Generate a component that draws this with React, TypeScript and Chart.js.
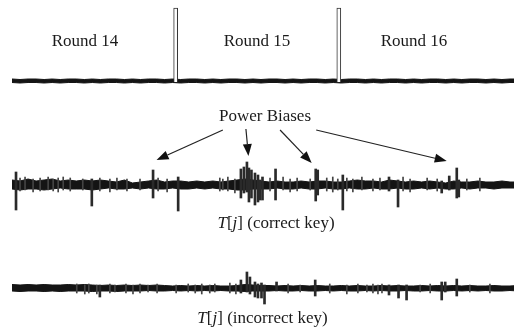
import React, { useEffect, useRef } from "react";
import { Chart, registerables } from "chart.js";

Chart.register(...registerables);

// ---- sample grid for the noise envelopes (sample index j, 0..1000) ----
const envJ = [
  0, 16, 32, 48, 64, 80, 96, 112, 128, 144, 160, 176, 192, 208, 224, 240,
  256, 272, 288, 304, 320, 336, 352, 368, 384, 400, 416, 432, 448, 464, 480, 496,
  512, 528, 544, 560, 576, 592, 608, 624, 640, 656, 672, 688, 704, 720, 736, 752,
  768, 784, 800, 816, 832, 848, 864, 880, 896, 912, 928, 944, 960, 976, 992, 1008,
];

// ---- top trace: power consumption with round markers ----
const topUpper = [
  0.2, 0.15, 0.2, 0.2, 0.15, 0.2, 0.15, 0.2,
  0.2, 0.15, 0.2, 0.15, 0.2, 0.2, 0.15, 0.2,
  0.15, 0.2, 0.2, 0.15, 0.2, 0.15, 0.2, 0.2,
  0.15, 0.2, 0.15, 0.2, 0.2, 0.15, 0.2, 0.15,
  0.2, 0.2, 0.15, 0.2, 0.15, 0.2, 0.2, 0.15,
  0.2, 0.15, 0.2, 0.2, 0.15, 0.2, 0.15, 0.2,
  0.2, 0.15, 0.2, 0.15, 0.2, 0.2, 0.15, 0.2,
  0.15, 0.2, 0.2, 0.15, 0.2, 0.15, 0.2, 0.2,
];
const topLower = [
  -0.15, -0.2, -0.15, -0.15, -0.2, -0.15, -0.2, -0.15,
  -0.15, -0.2, -0.15, -0.2, -0.15, -0.15, -0.2, -0.15,
  -0.2, -0.15, -0.15, -0.2, -0.15, -0.2, -0.15, -0.15,
  -0.2, -0.15, -0.2, -0.15, -0.15, -0.2, -0.15, -0.2,
  -0.15, -0.15, -0.2, -0.15, -0.2, -0.15, -0.15, -0.2,
  -0.15, -0.2, -0.15, -0.15, -0.2, -0.15, -0.2, -0.15,
  -0.15, -0.2, -0.15, -0.2, -0.15, -0.15, -0.2, -0.15,
  -0.2, -0.15, -0.15, -0.2, -0.15, -0.2, -0.15, -0.15,
];
const roundStartJ = [326, 651];
const roundMarkerHeight = [7.3, 7.3];

// ---- middle trace: T[j] (correct key) ----
const midUpper = [
  0.5, 0.4, 0.6, 0.4, 0.5, 0.6, 0.4, 0.5,
  0.4, 0.5, 0.4, 0.5, 0.4, 0.3, 0.5, 0.2,
  0.3, 0.4, 0.5, 0.3, 0.4, 0.4, 0.3, 0.4,
  0.3, 0.4, 0.3, 0.4, 0.5, 0.6, 0.5, 0.4,
  0.3, 0.4, 0.3, 0.3, 0.4, 0.3, 0.4, 0.4,
  0.3, 0.3, 0.4, 0.5, 0.4, 0.4, 0.3, 0.5,
  0.4, 0.3, 0.4, 0.3, 0.4, 0.3, 0.2, 0.4,
  0.3, 0.3, 0.4, 0.3, 0.3, 0.4, 0.3, 0.3,
];
const midLower = [
  -0.4, -0.5, -0.4, -0.4, -0.5, -0.4, -0.3, -0.4,
  -0.4, -0.4, -0.5, -0.4, -0.3, -0.4, -0.4, -0.3,
  -0.4, -0.3, -0.4, -0.4, -0.3, -0.4, -0.4, -0.3,
  -0.4, -0.3, -0.4, -0.4, -0.5, -0.5, -0.4, -0.4,
  -0.4, -0.3, -0.4, -0.4, -0.3, -0.4, -0.4, -0.3,
  -0.4, -0.4, -0.3, -0.4, -0.4, -0.3, -0.4, -0.4,
  -0.3, -0.4, -0.4, -0.3, -0.4, -0.3, -0.4, -0.4,
  -0.3, -0.4, -0.3, -0.3, -0.4, -0.3, -0.3, -0.3,
];
const midSpikeJ = [8, 159, 281, 331, 456, 462, 468, 472, 477, 484, 490, 494, 499, 525, 605, 609, 659, 751, 769, 856, 871, 886, 890];
const midSpikeHi = [1.3, 0.6, 1.5, 0.8, 1.6, 1.8, 2.3, 1.7, 1.5, 1.2, 1.0, 0.5, 0.8, 1.6, 1.6, 1.5, 1.0, 0.8, 0.5, 0.4, 0.9, 1.7, 0.5];
const midSpikeLo = [-2.5, -2.1, -1.3, -2.6, -1.3, -0.8, -0.7, -1.7, -1.3, -2.0, -1.7, -1.5, -1.5, -1.5, -1.6, -1.0, -2.5, -0.6, -2.2, -0.8, -0.5, -1.3, -1.2];
const midTickJ = [16, 26, 42, 56, 72, 82, 92, 102, 116, 141, 175, 195, 209, 229, 255, 291, 309, 414, 420, 430, 444, 514, 540, 554, 568, 594, 627, 639, 649, 667, 679, 697, 719, 733, 779, 793, 827, 847, 906, 932];
const midTickHi = [0.7, 0.8, 0.6, 0.7, 0.8, 0.6, 0.7, 0.8, 0.7, 0.6, 0.7, 0.6, 0.7, 0.6, 0.6, 0.7, 0.6, 0.7, 0.6, 0.8, 0.6, 0.7, 0.8, 0.6, 0.7, 0.6, 0.7, 0.8, 0.6, 0.7, 0.6, 0.8, 0.6, 0.7, 0.8, 0.6, 0.7, 0.6, 0.6, 0.7];
const midTickLo = [-0.6, -0.5, -0.7, -0.6, -0.5, -0.6, -0.7, -0.5, -0.6, -0.5, -0.6, -0.7, -0.5, -0.6, -0.5, -0.6, -0.7, -0.6, -0.5, -0.6, -0.8, -0.6, -0.5, -0.7, -0.6, -0.5, -0.6, -0.7, -0.5, -0.6, -0.7, -0.5, -0.6, -0.5, -0.6, -0.7, -0.5, -0.6, -0.5, -0.6];

// ---- bottom trace: T[j] (incorrect key) ----
const botUpper = [
  0.35, 0.3, 0.35, 0.3, 0.35, 0.3, 0.3, 0.35,
  0.3, 0.35, 0.3, 0.25, 0.3, 0.25, 0.3, 0.25,
  0.3, 0.25, 0.3, 0.25, 0.2, 0.25, 0.2, 0.25,
  0.2, 0.25, 0.2, 0.2, 0.25, 0.35, 0.3, 0.25,
  0.25, 0.2, 0.25, 0.2, 0.25, 0.2, 0.25, 0.2,
  0.2, 0.25, 0.2, 0.25, 0.2, 0.2, 0.25, 0.2,
  0.25, 0.2, 0.2, 0.25, 0.2, 0.25, 0.2, 0.25,
  0.2, 0.25, 0.2, 0.2, 0.25, 0.2, 0.2, 0.25,
];
const botLower = [
  -0.3, -0.35, -0.3, -0.3, -0.35, -0.3, -0.35, -0.3,
  -0.3, -0.3, -0.35, -0.3, -0.3, -0.35, -0.3, -0.3,
  -0.3, -0.25, -0.3, -0.3, -0.25, -0.3, -0.25, -0.3,
  -0.25, -0.3, -0.25, -0.3, -0.3, -0.35, -0.3, -0.3,
  -0.3, -0.25, -0.3, -0.3, -0.25, -0.3, -0.3, -0.25,
  -0.3, -0.25, -0.3, -0.3, -0.25, -0.3, -0.25, -0.3,
  -0.3, -0.25, -0.3, -0.3, -0.25, -0.3, -0.3, -0.25,
  -0.3, -0.25, -0.3, -0.25, -0.3, -0.3, -0.25, -0.3,
];
const botSpikeJ = [175, 456, 468, 474, 484, 490, 497, 503, 527, 604, 751, 770, 786, 856, 863, 886];
const botSpikeHi = [0.3, 0.8, 1.6, 1.1, 0.6, 0.4, 0.5, 0.3, 0.6, 0.8, 0.3, 0.3, 0.3, 0.6, 0.6, 0.9];
const botSpikeLo = [-0.9, -0.5, -0.4, -0.6, -0.9, -1.0, -1.0, -1.6, -0.3, -0.8, -0.7, -1.0, -1.2, -1.2, -0.4, -0.8];
const botTickJ = [129, 145, 153, 169, 195, 205, 227, 241, 255, 271, 289, 327, 351, 365, 378, 394, 404, 434, 446, 550, 574, 633, 667, 689, 707, 719, 729, 737, 813, 833, 912, 952];
const botTickHi = [0.4, 0.3, 0.4, 0.3, 0.4, 0.3, 0.4, 0.3, 0.4, 0.3, 0.4, 0.3, 0.4, 0.3, 0.4, 0.3, 0.4, 0.5, 0.4, 0.4, 0.3, 0.4, 0.3, 0.4, 0.3, 0.4, 0.3, 0.4, 0.3, 0.4, 0.3, 0.4];
const botTickLo = [-0.5, -0.6, -0.5, -0.6, -0.5, -0.4, -0.5, -0.6, -0.5, -0.4, -0.5, -0.5, -0.4, -0.5, -0.6, -0.5, -0.4, -0.5, -0.6, -0.5, -0.4, -0.5, -0.6, -0.5, -0.4, -0.5, -0.6, -0.5, -0.4, -0.5, -0.4, -0.5];

// ---- "Power Biases" arrows (in sample index / middle-trace units) ----
const arrowFromJ = [420, 466, 534, 606];
const arrowFromV = [5.5, 5.6, 5.5, 5.5];
const arrowToJ = [288, 471, 597, 866];
const arrowToV = [2.5, 2.9, 2.2, 2.4];

const zipLine = (xs: number[], ys: number[]) => xs.map((x, i) => ({ x, y: ys[i] }));
const zipBars = (xs: number[], lo: number[], hi: number[]) => xs.map((x, i) => ({ x, y: [lo[i], hi[i]] }));

const INK = "#141414";

const arrowPlugin = {
  id: "powerBiasArrows",
  afterDatasetsDraw(chart: any) {
    const xs = chart.scales.x;
    const ys = chart.scales.yMid;
    const ctx = chart.ctx as CanvasRenderingContext2D;
    ctx.save();
    ctx.strokeStyle = "#222";
    ctx.fillStyle = "#111";
    ctx.lineWidth = 1.2;
    for (let i = 0; i < arrowFromJ.length; i++) {
      const x0 = xs.getPixelForValue(arrowFromJ[i]);
      const y0 = ys.getPixelForValue(arrowFromV[i]);
      const x1 = xs.getPixelForValue(arrowToJ[i]);
      const y1 = ys.getPixelForValue(arrowToV[i]);
      const ang = Math.atan2(y1 - y0, x1 - x0);
      const headLen = 12;
      const headHalf = 4.5;
      const bx = x1 - headLen * Math.cos(ang);
      const by = y1 - headLen * Math.sin(ang);
      ctx.beginPath();
      ctx.moveTo(x0, y0);
      ctx.lineTo(bx, by);
      ctx.stroke();
      ctx.beginPath();
      ctx.moveTo(x1, y1);
      ctx.lineTo(bx + headHalf * Math.sin(ang), by - headHalf * Math.cos(ang));
      ctx.lineTo(bx - headHalf * Math.sin(ang), by + headHalf * Math.cos(ang));
      ctx.closePath();
      ctx.fill();
    }
    ctx.restore();
  },
};

function band(upper: number[], lower: number[], axis: string) {
  return [
    {
      type: "line" as const,
      data: zipLine(envJ, upper),
      yAxisID: axis,
      borderColor: INK,
      backgroundColor: INK,
      borderWidth: 1,
      pointRadius: 0,
      tension: 0,
      fill: "+1",
    },
    {
      type: "line" as const,
      data: zipLine(envJ, lower),
      yAxisID: axis,
      borderColor: INK,
      backgroundColor: INK,
      borderWidth: 1,
      pointRadius: 0,
      tension: 0,
      fill: false,
    },
  ];
}

function spikes(j: number[], lo: number[], hi: number[], axis: string, width: number, color: string) {
  return {
    type: "bar" as const,
    data: zipBars(j, lo, hi),
    yAxisID: axis,
    backgroundColor: color,
    borderWidth: 0,
    barThickness: width,
    grouped: false,
  };
}

export default function App() {
  const ref = useRef<HTMLCanvasElement | null>(null);

  useEffect(() => {
    if (!ref.current) return;
    const chart = new Chart(ref.current, {
      type: "bar",
      data: {
        datasets: [
          {
            type: "bar",
            data: zipBars(roundStartJ, [-0.1, -0.1], roundMarkerHeight),
            yAxisID: "yTop",
            backgroundColor: "#ffffff",
            borderColor: "#333",
            borderWidth: 1,
            borderSkipped: "start",
            barThickness: 4,
            grouped: false,
          } as any,
          ...band(topUpper, topLower, "yTop"),
          spikes(midSpikeJ, midSpikeLo, midSpikeHi, "yMid", 2, "#2a2a2a"),
          spikes(midTickJ, midTickLo, midTickHi, "yMid", 1, "#444"),
          ...band(midUpper, midLower, "yMid"),
          spikes(botSpikeJ, botSpikeLo, botSpikeHi, "yBot", 2, "#2a2a2a"),
          spikes(botTickJ, botTickLo, botTickHi, "yBot", 1, "#444"),
          ...band(botUpper, botLower, "yBot"),
        ] as any,
      },
      options: {
        animation: false,
        responsive: false,
        maintainAspectRatio: false,
        devicePixelRatio: 1,
        events: [],
        layout: { padding: { left: 12, right: 0, top: 0, bottom: 0 } },
        plugins: { legend: { display: false }, tooltip: { enabled: false } },
        scales: {
          x: { type: "linear", min: 0, max: 1000, display: false, offset: false },
          y: { display: false },
          yTop: { type: "linear", min: -24.9, max: 8.1, display: false },
          yMid: { type: "linear", min: -14.5, max: 18.5, display: false },
          yBot: { type: "linear", min: -4.2, max: 28.8, display: false },
        },
      } as any,
      plugins: [arrowPlugin],
    });
    return () => chart.destroy();
  }, []);

  const label: React.CSSProperties = {
    position: "absolute",
    transform: "translateX(-50%)",
    whiteSpace: "nowrap",
    fontFamily: '"Liberation Serif", "Times New Roman", serif',
    fontSize: 17,
    lineHeight: "17px",
    color: "#1a1a1a",
  };

  return (
    <div style={{ position: "fixed", left: 0, top: 0, width: 514, height: 330, background: "#fff", overflow: "hidden" }}>
      <canvas ref={ref} width={514} height={330} style={{ position: "absolute", left: 0, top: 0, width: 514, height: 330 }} />
      <div style={{ ...label, left: 85, top: 32 }}>Round 14</div>
      <div style={{ ...label, left: 257, top: 32 }}>Round 15</div>
      <div style={{ ...label, left: 414, top: 32 }}>Round 16</div>
      <div style={{ ...label, left: 265, top: 106.5 }}>Power Biases</div>
      <div style={{ ...label, left: 276, top: 214 }}>
        <i>T</i>[<i>j</i>] (correct key)
      </div>
      <div style={{ ...label, left: 262.5, top: 309 }}>
        <i>T</i>[<i>j</i>] (incorrect key)
      </div>
    </div>
  );
}
